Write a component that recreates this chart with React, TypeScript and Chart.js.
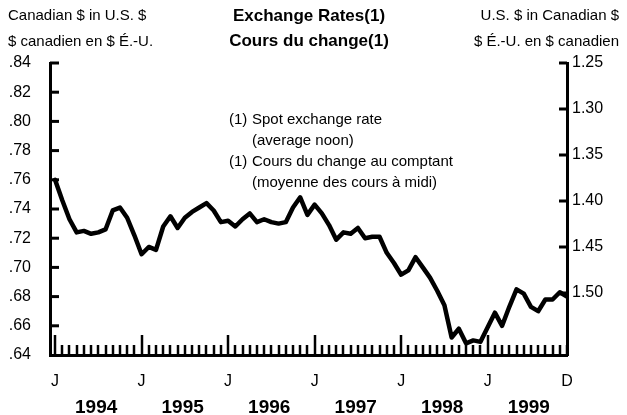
import React, { useEffect, useRef } from "react";
import { Chart, registerables } from "chart.js";

Chart.register(...registerables);

// Monthly average noon spot rate, Canadian $ in U.S. $, Jan 1994 – Dec 1999
const rates: number[] = [
  // 1994
  0.760, 0.746, 0.733, 0.724, 0.725, 0.723, 0.724, 0.726, 0.739, 0.741, 0.734, 0.722,
  // 1995
  0.709, 0.714, 0.712, 0.728, 0.735, 0.727, 0.734, 0.738, 0.741, 0.744, 0.739, 0.731,
  // 1996
  0.732, 0.728, 0.733, 0.737, 0.731, 0.733, 0.731, 0.730, 0.731, 0.741, 0.748, 0.736,
  // 1997
  0.743, 0.737, 0.729, 0.719, 0.724, 0.723, 0.727, 0.720, 0.721, 0.721, 0.710, 0.703,
  // 1998
  0.695, 0.698, 0.707, 0.700, 0.693, 0.684, 0.674, 0.652, 0.658, 0.648, 0.650, 0.649,
  // 1999
  0.659, 0.669, 0.660, 0.673, 0.685, 0.682, 0.673, 0.670, 0.678, 0.678, 0.683, 0.680,
];
const monthIndex: number[] = rates.map((_, i) => i);
const years: string[] = ["1994", "1995", "1996", "1997", "1998", "1999"];
const leftTicks: number[] = [0.64, 0.66, 0.68, 0.70, 0.72, 0.74, 0.76, 0.78, 0.80, 0.82, 0.84];
const rightTicks: number[] = [1.25, 1.3, 1.35, 1.4, 1.45, 1.5];

const titleLines: string[] = ["Exchange Rates(1)", "Cours du change(1)"];
const leftUnitLines: string[] = ["Canadian $ in U.S. $", "$ canadien en $ É.-U."];
const rightUnitLines: string[] = ["U.S. $ in Canadian $", "$ É.-U. en $ canadien"];
const noteLines: string[][] = [
  ["(1)", "Spot exchange rate"],
  ["", "(average noon)"],
  ["(1)", "Cours du change au comptant"],
  ["", "(moyenne des cours à midi)"],
];

const FONT = "'Liberation Sans', Arial, sans-serif";

const decorPlugin = {
  id: "decor",
  afterDraw(chart: any) {
    const ctx = chart.ctx;
    const xs = chart.scales.x;
    const yl = chart.scales.y;
    const yr = chart.scales.y2;
    const area = chart.chartArea;
    ctx.save();
    ctx.strokeStyle = "#000";
    ctx.lineCap = "butt";
    // left ticks (inward)
    ctx.lineWidth = 3;
    leftTicks.forEach((v) => {
      if (v === leftTicks[0]) return;
      const y = yl.getPixelForValue(v);
      ctx.beginPath();
      ctx.moveTo(area.left, y);
      ctx.lineTo(area.left + 9, y);
      ctx.stroke();
    });
    // right ticks (inward)
    rightTicks.forEach((v) => {
      const y = yr.getPixelForValue(v);
      ctx.beginPath();
      ctx.moveTo(area.right, y);
      ctx.lineTo(area.right - 8, y);
      ctx.stroke();
    });
    // bottom ticks (inward)
    ctx.lineWidth = 2.5;
    monthIndex.forEach((i) => {
      const x = Math.round(xs.getPixelForValue(i));
      const major = i % 12 === 0;
      ctx.beginPath();
      ctx.moveTo(x, area.bottom);
      ctx.lineTo(x, area.bottom - (major ? 20 : 10));
      ctx.stroke();
    });

    ctx.fillStyle = "#000";
    ctx.textBaseline = "alphabetic";
    // years
    ctx.font = `bold 19px ${FONT}`;
    ctx.textAlign = "center";
    years.forEach((yTxt, k) => {
      ctx.fillText(yTxt, xs.getPixelForValue(12 * k + 5.7), 413);
    });
    // title
    ctx.font = `bold 17px ${FONT}`;
    ctx.fillText(titleLines[0], 309, 21);
    ctx.fillText(titleLines[1], 309, 46);
    // units
    ctx.font = `15px ${FONT}`;
    ctx.textAlign = "left";
    ctx.fillText(leftUnitLines[0], 8, 20);
    ctx.fillText(leftUnitLines[1], 8, 46);
    ctx.textAlign = "right";
    ctx.fillText(rightUnitLines[0], 619, 20);
    ctx.fillText(rightUnitLines[1], 619, 46);
    // note
    ctx.font = `15px ${FONT}`;
    ctx.textAlign = "left";
    noteLines.forEach((ln, k) => {
      const y = 124 + k * 21;
      if (ln[0]) ctx.fillText(ln[0], 229, y);
      ctx.fillText(ln[1], 252, y);
    });
    ctx.restore();
  },
};

export default function App() {
  const ref = useRef<HTMLCanvasElement | null>(null);
  useEffect(() => {
    if (!ref.current) return;
    const chart = new Chart(ref.current, {
      type: "line",
      data: {
        labels: monthIndex,
        datasets: [
          {
            data: monthIndex.map((i) => ({ x: i, y: rates[i] })),
            borderColor: "#000",
            borderWidth: 4.5,
            pointRadius: 0,
            tension: 0,
            borderJoinStyle: "round",
            borderCapStyle: "round",
            fill: false,
          },
        ],
      },
      options: {
        responsive: false,
        animation: false,
        devicePixelRatio: 1,
        layout: { padding: { top: 63, left: 0, right: 0, bottom: 0 } },
        plugins: { legend: { display: false }, title: { display: false }, tooltip: { enabled: false } },
        scales: {
          x: {
            type: "linear",
            min: -0.7,
            max: 71,
            afterFit: (s: any) => {
              s.height = 60;
            },
            afterBuildTicks: (s: any) => {
              s.ticks = monthIndex.map((i) => ({ value: i }));
            },
            grid: { display: true, drawOnChartArea: false, drawTicks: false, color: "rgba(0,0,0,0)" },
            border: { display: true, color: "#000", width: 3 },
            ticks: {
              autoSkip: false,
              maxRotation: 0,
              padding: 17,
              color: "#000",
              font: { family: FONT, size: 16 },
              callback: (v: any) => (v === 71 ? "D" : v % 12 === 0 ? "J" : ""),
            },
          },
          y: {
            position: "left",
            min: 0.64,
            max: 0.84,
            afterFit: (s: any) => {
              s.width = 50;
            },
            afterBuildTicks: (s: any) => {
              s.ticks = leftTicks.map((v) => ({ value: v }));
            },
            grid: { display: true, drawOnChartArea: false, drawTicks: false, color: "rgba(0,0,0,0)" },
            border: { display: true, color: "#000", width: 3 },
            ticks: {
              padding: 19,
              color: "#000",
              font: { family: FONT, size: 16 },
              callback: (v: any) => Number(v).toFixed(2).replace(/^0/, ""),
            },
          },
          y2: {
            position: "right",
            reverse: true,
            min: 1.25,
            max: 1.5674,
            afterFit: (s: any) => {
              s.width = 60;
            },
            afterBuildTicks: (s: any) => {
              s.ticks = rightTicks.map((v) => ({ value: v }));
            },
            grid: { display: true, drawOnChartArea: false, drawTicks: false, color: "rgba(0,0,0,0)" },
            border: { display: true, color: "#000", width: 3 },
            ticks: {
              padding: 5,
              color: "#000",
              font: { family: FONT, size: 16 },
              callback: (v: any) => Number(v).toFixed(2),
            },
          },
        },
      },
      plugins: [decorPlugin],
    } as any);
    return () => chart.destroy();
  }, []);
  return (
    <div style={{ position: "fixed", left: 0, top: 0, width: 627, height: 415, background: "#fff" }}>
      <canvas ref={ref} width={627} height={415} style={{ display: "block" }} />
    </div>
  );
}
